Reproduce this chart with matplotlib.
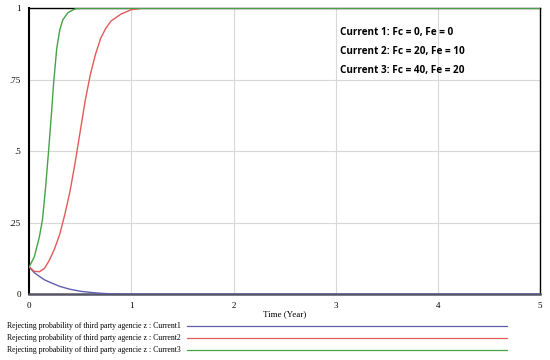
import numpy as np
import matplotlib.pyplot as plt
from matplotlib.lines import Line2D

# values (time in years, probability)
t_blue = [0, 0.05, 0.1, 0.15, 0.2, 0.3, 0.4, 0.5, 0.6, 0.7, 0.8, 1.0, 5.0]
current1 = [0.095, 0.075, 0.062, 0.05, 0.042, 0.027, 0.017, 0.010, 0.006, 0.003, 0.001, 0, 0]

t_red = [0, 0.05, 0.1, 0.15, 0.2, 0.25, 0.3, 0.35, 0.4, 0.45, 0.5, 0.55, 0.6,
         0.65, 0.7, 0.75, 0.8, 0.9, 1.0, 1.1, 5.0]
current2 = [0.095, 0.08, 0.078, 0.09, 0.12, 0.16, 0.21, 0.28, 0.36, 0.46, 0.57,
            0.68, 0.77, 0.84, 0.895, 0.93, 0.955, 0.98, 0.995, 1.0, 1.0]

t_green = [0, 0.05, 0.1, 0.13, 0.16, 0.19, 0.22, 0.24, 0.27, 0.3, 0.33, 0.38,
           0.45, 0.5, 5.0]
current3 = [0.095, 0.13, 0.2, 0.26, 0.37, 0.5, 0.64, 0.74, 0.86, 0.925, 0.96,
            0.985, 0.998, 1.0, 1.0]

xticks = [0, 1, 2, 3, 4, 5]
yticks = [0, 0.25, 0.5, 0.75, 1]
ylabels = ['0', '.25', '.5', '.75', '1']
names = ['Current1', 'Current2', 'Current3']
colors = ['#5f5fae', '#e35a5a', '#45a345']
notes = ['Current 1: Fc = 0, Fe = 0',
         'Current 2: Fc = 20, Fe = 10',
         'Current 3: Fc = 40, Fe = 20']

serif = ['Liberation Serif', 'DejaVu Serif']

fig = plt.figure(figsize=(5.5, 3.6), dpi=100)
ax = fig.add_axes([0.053, 0.183, 0.929, 0.794])

series = [(t_blue, current1), (t_red, current2), (t_green, current3)]
for (t, v), c in zip(series, colors):
    ax.plot(t, v, color=c, lw=1.0, zorder=3, solid_joinstyle='round')

ax.set_xlim(0, 5)
ax.set_ylim(0, 1)
ax.set_xticks(xticks)
ax.set_yticks(yticks)
ax.set_yticklabels(ylabels)
ax.tick_params(length=0, labelsize=6.5, pad=6)
for lab in ax.get_xticklabels() + ax.get_yticklabels():
    lab.set_family(serif)
ax.grid(True, color='#d8d8d8', lw=0.8)
for side in ['left', 'top', 'right']:
    ax.spines[side].set_color('black')
    ax.spines[side].set_linewidth(1.0)
ax.spines['left'].set_linewidth(1.5)
ax.spines['bottom'].set_color('#555566')
ax.spines['bottom'].set_linewidth(1.8)

ax.set_xlabel('Time (Year)', family=serif, fontsize=6.5, labelpad=0)

for i, s in enumerate(notes):
    ax.text(0.608, 0.905 - i * 0.066, s, transform=ax.transAxes,
            fontsize=7.2, fontweight='bold', family=['Open Sans', 'DejaVu Sans'])

# legend under the plot
for i, (n, c) in enumerate(zip(names, colors)):
    y = 1 - (326 + i * 12) / 360
    fig.text(7 / 550, y, 'Rejecting probability of third party agencie z : ' + n,
             family=serif, fontsize=5.6, va='center')
    fig.add_artist(Line2D([187 / 550, 507 / 550], [y, y], color=c, lw=0.9,
                          transform=fig.transFigure))

plt.savefig('out.png', dpi=100)
